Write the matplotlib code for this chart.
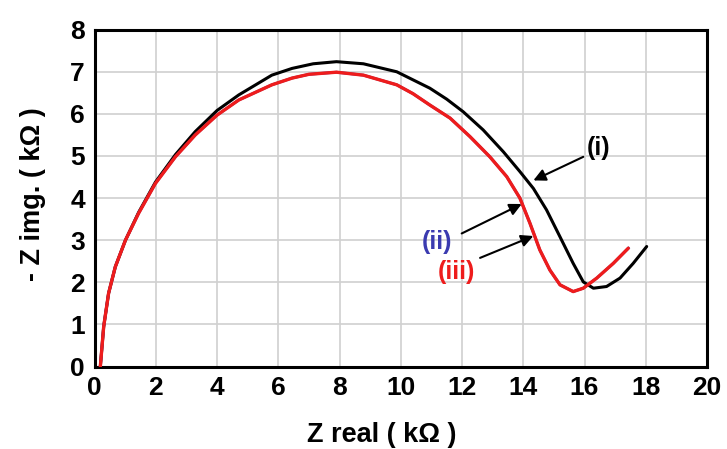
import matplotlib
matplotlib.use("Agg")
import matplotlib.pyplot as plt

plt.rcParams['font.family'] = ['Liberation Sans', 'DejaVu Sans']
plt.rcParams['font.weight'] = 'bold'

# Series (i) - black
zi_real = [0.19, 0.30, 0.46, 0.68, 1.01, 1.44, 1.99, 2.64, 3.29, 4.0, 4.71, 5.79,
           6.45, 7.14, 7.9, 8.78, 9.87, 10.95, 11.5, 12.04, 12.69, 13.35, 13.89,
           14.33, 14.76, 15.2, 15.63, 15.96, 16.29, 16.72, 17.16, 17.59, 18.03]
zi_img = [0.0, 0.95, 1.74, 2.37, 3.0, 3.66, 4.38, 5.03, 5.58, 6.08, 6.45, 6.92,
          7.08, 7.19, 7.24, 7.19, 7.0, 6.61, 6.35, 6.05, 5.62, 5.10, 4.63,
          4.23, 3.72, 3.08, 2.45, 2.01, 1.86, 1.90, 2.10, 2.45, 2.85]

# Series (ii) - blue (lies under iii)
zii_real = [0.19, 0.30, 0.46, 0.68, 1.01, 1.44, 1.99, 2.64, 3.29, 4.0, 4.71, 5.79,
            6.45, 7.0, 7.9, 8.78, 9.87, 10.4, 10.95, 11.61, 12.26, 12.91, 13.46,
            13.89, 14.22, 14.54, 14.87, 15.2, 15.63, 15.96, 16.40, 16.94, 17.43]
zii_img = [0.0, 0.95, 1.74, 2.37, 3.0, 3.64, 4.35, 4.98, 5.50, 5.97, 6.33, 6.69,
           6.85, 6.94, 6.99, 6.92, 6.69, 6.48, 6.21, 5.90, 5.46, 4.98, 4.51,
           4.0, 3.40, 2.77, 2.29, 1.94, 1.78, 1.86, 2.10, 2.45, 2.81]

# Series (iii) - red
ziii_real = [0.19, 0.30, 0.46, 0.68, 1.01, 1.44, 1.99, 2.64, 3.29, 4.0, 4.71, 5.79,
             6.45, 7.0, 7.9, 8.78, 9.87, 10.4, 10.95, 11.61, 12.26, 12.91, 13.46,
             13.89, 14.22, 14.54, 14.87, 15.2, 15.63, 15.96, 16.40, 16.94, 17.43]
ziii_img = [0.0, 0.95, 1.74, 2.37, 3.0, 3.64, 4.35, 4.98, 5.50, 5.97, 6.33, 6.69,
            6.85, 6.94, 6.99, 6.92, 6.69, 6.48, 6.21, 5.90, 5.46, 4.98, 4.51,
            4.0, 3.40, 2.77, 2.29, 1.94, 1.78, 1.86, 2.10, 2.45, 2.81]

x_ticks = [0, 2, 4, 6, 8, 10, 12, 14, 16, 18, 20]
y_ticks = [0, 1, 2, 3, 4, 5, 6, 7, 8]

fig = plt.figure(figsize=(7.27, 4.49), dpi=100)
ax = fig.add_axes([0.130, 0.1837, 0.8425, 0.7502])

for v in x_ticks[1:-1]:
    ax.axvline(v, color='#d0d0d0', lw=1.2, zorder=0)
for v in y_ticks[1:-1]:
    ax.axhline(v, color='#d0d0d0', lw=1.2, zorder=0)

ax.plot(zi_real, zi_img, color='black', lw=2.2, zorder=3,
        solid_joinstyle='round', solid_capstyle='round')
ax.plot(zii_real, zii_img, color='#3b3bb0', lw=2.0, zorder=3,
        solid_joinstyle='round')
ax.plot(ziii_real, ziii_img, color='#ee1c1c', lw=2.4, zorder=4,
        solid_joinstyle='round', solid_capstyle='round')

ax.set_xlim(0, 20)
ax.set_ylim(0, 8)
ax.set_xticks(x_ticks)
ax.set_yticks(y_ticks)
ax.tick_params(length=0, labelsize=19, pad=7)
for lab in ax.get_xticklabels() + ax.get_yticklabels():
    lab.set_fontweight('bold')
for s in ax.spines.values():
    s.set_linewidth(2.2)
    s.set_color('black')

# Axis labels
fig.text(381.5 / 727, 7 / 449, 'Z real ( kΩ )', ha='center', va='baseline',
         fontsize=19.5, fontweight='bold')
fig.text(33 / 727, 1 - 194.4 / 449, '- Z img. ( kΩ )', ha='center', va='center',
         rotation=90, fontsize=19.5, fontweight='bold')

# Annotations
ax.text(16.45, 5.18, '(i)', color='black', fontsize=18, fontweight='bold',
        ha='center', va='center')
ax.text(11.19, 2.96, '(ii)', color='#3b3bb0', fontsize=18, fontweight='bold',
        ha='center', va='center')
ax.text(11.83, 2.25, '(iii)', color='#ee1c1c', fontsize=18, fontweight='bold',
        ha='center', va='center')

arrow = dict(arrowstyle='-|>', color='black', lw=1.5, mutation_scale=18,
             shrinkA=0, shrinkB=0)
ax.annotate('', xy=(14.33, 4.42), xytext=(15.96, 4.98), arrowprops=arrow)
ax.annotate('', xy=(13.95, 3.86), xytext=(11.99, 3.16), arrowprops=arrow)
ax.annotate('', xy=(14.33, 3.10), xytext=(12.59, 2.58), arrowprops=arrow)

fig.savefig('out.png', dpi=100)
